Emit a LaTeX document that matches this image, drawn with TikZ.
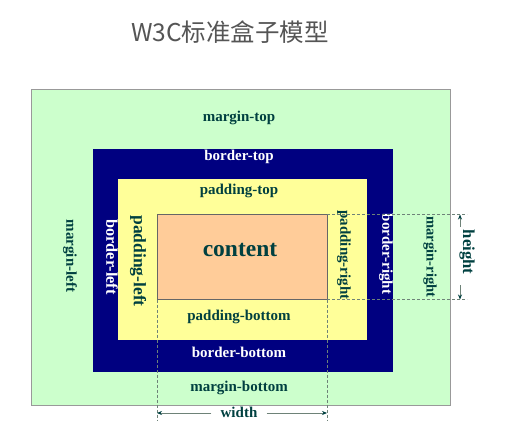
\documentclass[tikz,border=0pt]{standalone}
\usepackage{fontspec}
\setmainfont{Liberation Serif}
\newfontfamily\cjkfont{Noto Sans CJK SC}
\usetikzlibrary{arrows.meta}
\definecolor{marginc}{RGB}{204,255,204}
\definecolor{borderc}{RGB}{0,0,128}
\definecolor{paddingc}{RGB}{255,255,153}
\definecolor{contentc}{RGB}{255,204,153}
\definecolor{labelc}{RGB}{0,64,64}
\definecolor{titlec}{RGB}{85,85,85}
\definecolor{guidec}{RGB}{110,130,120}
\tikzset{
  boxarea/.style={anchor=north west, inner sep=0pt, outer sep=0pt},
  lbl/.style={font=\bfseries\fontsize{15}{17}\selectfont, text=labelc, inner sep=1pt},
  wlbl/.style={lbl, text=white},
  vlbl/.style={lbl, rotate=-90},
  guide/.style={draw=guidec, densely dashed, line width=0.6pt},
  dimarrow/.style={draw=guidec, line width=0.7pt, -{Stealth[length=5pt,width=4pt,color=labelc]}}
}
\begin{document}
\begin{tikzpicture}[x=1pt,y=-1pt]
\useasboundingbox (0,0) rectangle (510,443);
% title
\node[font=\cjkfont\fontsize{24.5}{27}\selectfont, text=titlec] (title) at (230,32) {W3C标准盒子模型};
% nested boxes
\node[boxarea, draw=gray!80, line width=0.8pt, fill=marginc, minimum width=419pt, minimum height=316pt] (margin) at (31,89) {};
\node[boxarea, fill=borderc, minimum width=300pt, minimum height=223pt] (border) at (93,149) {};
\node[boxarea, fill=paddingc, minimum width=249pt, minimum height=161pt] (padding) at (118,179) {};
\node[boxarea, draw=black!60, line width=0.6pt, fill=contentc, minimum width=170pt, minimum height=85pt] (content) at (157,214.5) {};
% horizontal labels
\node[lbl] (mtop) at (239,118) {margin-top};
\node[wlbl] (btop) at (239,157) {border-top};
\node[lbl] (ptop) at (239,191) {padding-top};
\node[lbl, font=\bfseries\fontsize{23.5}{25}\selectfont] (ctext) at (240,250) {content};
\node[lbl] (pbot) at (239,317) {padding-bottom};
\node[wlbl] (bbot) at (239,352) {border-bottom};
\node[lbl] (mbot) at (239,388) {margin-bottom};
% vertical labels
\node[vlbl] (mleft) at (70,256) {margin-left};
\node[vlbl, text=white, font=\bfseries\fontsize{16.3}{18}\selectfont] (bleft) at (112,257) {border-left};
\node[vlbl, font=\bfseries\fontsize{17.5}{19}\selectfont] (pleft) at (138,261) {padding-left};
\node[vlbl, font=\bfseries\fontsize{15}{17}\selectfont] (pright) at (344,255) {padding-right};
\node[vlbl, text=white] (bright) at (386,254) {border-right};
\node[vlbl, font=\bfseries\fontsize{14.6}{16}\selectfont] (mright) at (430,257) {margin-right};
% guide lines from the content edges
\coordinate (wl) at (157,421);
\coordinate (wr) at (327,421);
\coordinate (ht) at (467,214.5);
\coordinate (hb) at (467,299.5);
\draw[guide] (content.south west) -- (wl);
\draw[guide] (content.south east) -- (wr);
\draw[guide] (content.north east) -- (ht);
\draw[guide] (content.south east) -- (hb);
% width dimension
\node[lbl] (wtext) at (239,412) {width};
\coordinate (wa) at (157,413);
\coordinate (wb) at (327,413);
\draw[dimarrow] (wtext.west |- wa) ++(-8,0) -- (wa);
\draw[dimarrow] (wtext.east |- wb) ++(8,0) -- (wb);
% height dimension
\node[vlbl, font=\bfseries\fontsize{16.7}{18}\selectfont] (htext) at (467,252) {height};
\coordinate (ha) at (460,214.5);
\coordinate (hbb) at (460,299.5);
\draw[dimarrow] (460,227) -- (ha);
\draw[dimarrow] (460,285) -- (hbb);
\end{tikzpicture}
\end{document}
